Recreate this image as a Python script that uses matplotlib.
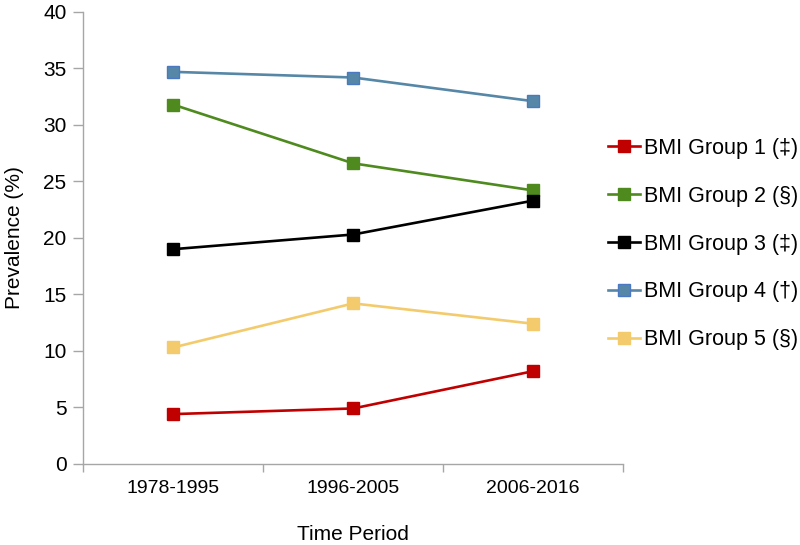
import numpy as np
import matplotlib.pyplot as plt

plt.rcParams['font.family'] = ['Liberation Sans', 'DejaVu Sans']

periods = ["1978-1995", "1996-2005", "2006-2016"]
labels = ["BMI Group 1 (\u2021)", "BMI Group 2 (\u00a7)", "BMI Group 3 (\u2021)",
          "BMI Group 4 (\u2020)", "BMI Group 5 (\u00a7)"]
group1 = [4.4, 4.9, 8.2]
group2 = [31.8, 26.6, 24.2]
group3 = [19.0, 20.3, 23.3]
group4 = [34.7, 34.2, 32.1]
group5 = [10.3, 14.2, 12.4]

colors = ["#C00000", "#4E8A1E", "#000000", "#5687A6", "#F3CB6C"]
edges = ["#C00000", "#4E8A1E", "#000000", "#4A78C2", "#F3CB6C"]

fig = plt.figure(figsize=(8, 5.45), dpi=100)
ax = fig.add_axes([0.104, 0.149, 0.675, 0.829])

x = np.arange(len(periods))
for y, lab, c, ec in zip([group1, group2, group3, group4, group5], labels, colors, edges):
    ax.plot(x, y, color=c, lw=1.9, marker='s', markersize=8.5,
            markerfacecolor=c, markeredgecolor=ec, markeredgewidth=1, label=lab)

ax.set_xlim(-0.5, 2.5)
ax.set_ylim(0, 40)
ax.set_yticks(np.arange(0, 41, 5))
ax.set_xticks(x)
ax.set_xticklabels(periods)
ax.set_xticks([-0.5, 0.5, 1.5, 2.5], minor=True)
ax.tick_params(axis='x', which='major', length=0, pad=12, labelsize=14)
ax.tick_params(axis='x', which='minor', length=6, color='#A6A6A6', width=1)
ax.tick_params(axis='y', length=7, color='#A6A6A6', width=1, labelsize=15, pad=5)

for s in ['top', 'right']:
    ax.spines[s].set_visible(False)
for s in ['left', 'bottom']:
    ax.spines[s].set_color('#A6A6A6')
    ax.spines[s].set_linewidth(1)

ax.set_ylabel("Prevalence (%)", fontsize=15, labelpad=14)
ax.set_xlabel("Time Period", fontsize=15, labelpad=20)

ax.legend(loc='upper left', bbox_to_anchor=(0.944, 0.755), frameon=False, fontsize=15.5,
          handlelength=1.5, handletextpad=0.15, labelspacing=1.25, borderaxespad=0.3)

fig.savefig("out.png", dpi=100)
